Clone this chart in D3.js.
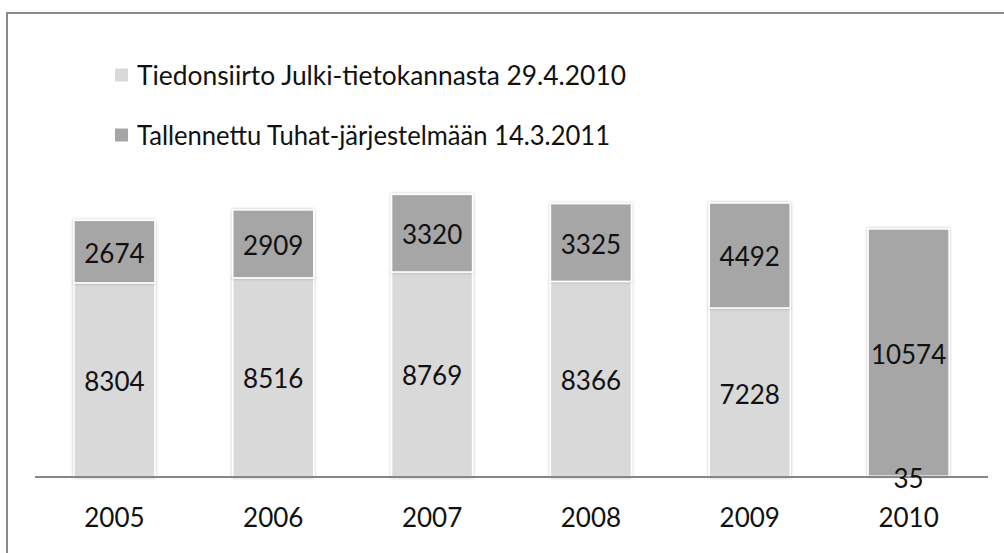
<!DOCTYPE html>
<html><head><meta charset="utf-8">
<script src="https://cdn.jsdelivr.net/npm/d3@7"></script>
<style>
html,body{margin:0;padding:0;background:#fff;}
svg{display:block;}
text{font-family:Lato,"Open Sans",sans-serif;fill:#111;}
</style></head>
<body>
<svg id="c" width="1004" height="553"></svg>
<script>
const years = ["2005","2006","2007","2008","2009","2010"];
const seriesNames = ["Tiedonsiirto Julki-tietokannasta 29.4.2010","Tallennettu Tuhat-järjestelmään 14.3.2011"];
const transferred = [8304, 8516, 8769, 8366, 7228, 35];
const stored = [2674, 2909, 3320, 3325, 4492, 10574];
const colors = ["#d9d9d9", "#a6a6a6"];

const svg = d3.select("#c");
const defs = svg.append("defs");
const f = defs.append("filter").attr("id","sh").attr("x","-20%").attr("y","-20%").attr("width","140%").attr("height","140%");
f.append("feDropShadow").attr("dx",0).attr("dy",0).attr("stdDeviation",1.6).attr("flood-color","#000").attr("flood-opacity",0.28);

// outer frame
svg.append("rect").attr("x",7).attr("y",13).attr("width",1100).attr("height",700)
  .attr("fill","none").attr("stroke","#8a8a8a").attr("stroke-width",2);

const x = d3.scaleBand().domain(years).range([35, 988]).paddingInner(0.49).paddingOuter(0.245);
const y = d3.scaleLinear().domain([0, 14000]).range([477, 477 - 14000*0.02338]);

const rows = years.map((yr,i)=>({year:yr, a:transferred[i], b:stored[i]}));
const stack = d3.stack().keys(["a","b"]);
const layers = stack(rows);

const g = svg.append("g");
layers.forEach((layer, li) => {
  g.append("g").selectAll("rect").data(layer).join("rect")
    .attr("x", d => x(d.data.year))
    .attr("width", x.bandwidth())
    .attr("y", d => y(d[1]))
    .attr("height", d => Math.max(0, y(d[0]) - y(d[1])))
    .attr("fill", colors[li])
    .attr("stroke", "#fff").attr("stroke-width", 1.5)
    .attr("filter","url(#sh)");
});

// axis line
svg.append("line").attr("x1",35).attr("x2",988).attr("y1",y(0)).attr("y2",y(0))
  .attr("stroke","#868686").attr("stroke-width",2);

// value labels
layers.forEach((layer) => {
  svg.append("g").selectAll("text").data(layer).join("text")
    .attr("x", d => x(d.data.year) + x.bandwidth()/2)
    .attr("y", d => (y(d[0]) + y(d[1]))/2 + 1)
    .attr("text-anchor","middle").attr("dominant-baseline","central")
    .attr("font-size", 26)
    .text(d => d[1]-d[0]);
});

// category axis labels
const xAxis = d3.axisBottom(x).tickSize(0).tickPadding(0);
const ax = svg.append("g").attr("transform",`translate(0,${518})`).call(xAxis);
ax.select(".domain").remove();
ax.selectAll("text").attr("font-size",26).attr("dy","0.35em").attr("y",0)
  .style("font-family","Lato, sans-serif").attr("fill","#111");

// legend
const leg = svg.append("g");
const legY = [75, 135];
const legW = [489, 473];
seriesNames.forEach((n,i)=>{
  leg.append("rect").attr("x",115).attr("y",legY[i]-6.5).attr("width",13).attr("height",13).attr("fill",colors[i]);
  leg.append("text").attr("x",137).attr("y",legY[i]).attr("dominant-baseline","central")
    .attr("font-size",26).attr("textLength",legW[i]).attr("lengthAdjust","spacingAndGlyphs").text(n);
});
</script>
</body></html>
